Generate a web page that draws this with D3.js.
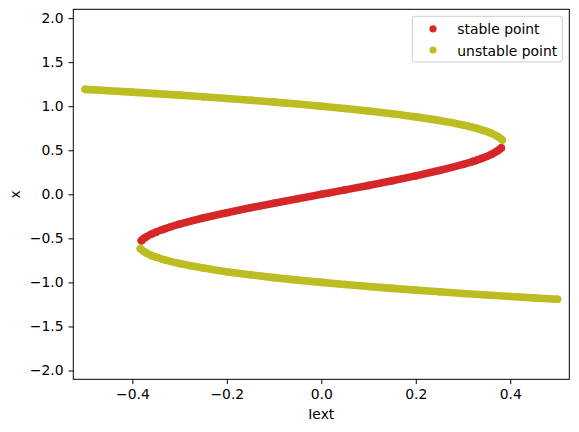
<!DOCTYPE html>
<html>
<head>
<meta charset="utf-8">
<script src="https://cdn.jsdelivr.net/npm/d3@7"></script>
<style>
  html, body { margin: 0; padding: 0; background: #fff; }
  svg { display: block; font-family: "DejaVu Sans", sans-serif; }
</style>
</head>
<body>
<svg id="chart" width="579" height="432"></svg>
<script>
// ---- data: Iext values and x values per branch ----
const stableIext = [-0.381, -0.38, -0.375, -0.37, -0.36, -0.35, -0.34, -0.33, -0.32, -0.3, -0.25, -0.2, -0.15, -0.1, -0.05, 0,
                    0.05, 0.1, 0.15, 0.2, 0.25, 0.3, 0.32, 0.33, 0.34, 0.35, 0.36, 0.37, 0.375, 0.38, 0.381];
const stableX    = [-0.526, -0.5235, -0.5, -0.4825, -0.453, -0.4295, -0.408, -0.389, -0.3712, -0.339, -0.2695, -0.209, -0.1535, -0.101, -0.0501, 0,
                    0.0501, 0.101, 0.1535, 0.209, 0.2695, 0.339, 0.3712, 0.389, 0.408, 0.4295, 0.453, 0.4825, 0.5, 0.5235, 0.526];

const unstableUpperIext = [-0.5, -0.45, -0.4, -0.35, -0.3, -0.25, -0.2, -0.15, -0.1, -0.05, 0, 0.05, 0.1, 0.15, 0.2, 0.25, 0.3, 0.33, 0.35, 0.36, 0.37, 0.375, 0.38, 0.383];
const unstableUpperX    = [1.1915, 1.1759, 1.1597, 1.1429, 1.1254, 1.1071, 1.088, 1.0679, 1.0467, 1.0242, 1.0, 0.974, 0.9456, 0.9143, 0.8789, 0.8375, 0.7865, 0.7472, 0.714, 0.6935, 0.6673, 0.651, 0.63, 0.616];

const unstableLowerIext = [-0.383, -0.38, -0.375, -0.37, -0.36, -0.35, -0.33, -0.3, -0.25, -0.2, -0.15, -0.1, -0.05, 0, 0.05, 0.1, 0.15, 0.2, 0.25, 0.3, 0.35, 0.4, 0.45, 0.5];
const unstableLowerX    = [-0.616, -0.63, -0.651, -0.6673, -0.6935, -0.714, -0.7472, -0.7865, -0.8375, -0.8789, -0.9143, -0.9456, -0.974, -1.0, -1.0242, -1.0467, -1.0679, -1.088, -1.1071, -1.1254, -1.1429, -1.1597, -1.1759, -1.1915];

const xTicks = [-0.4, -0.2, 0.0, 0.2, 0.4];
const yTicks = [-2.0, -1.5, -1.0, -0.5, 0.0, 0.5, 1.0, 1.5, 2.0];
const xDomain = [-0.525, 0.525];
const yDomain = [-2.1, 2.1];
const legendLabels = ["stable point", "unstable point"];
const colors = { stable: "#d62728", unstable: "#bcbd22" };

// ---- layout ----
const svg = d3.select("#chart");
const pLeft = 73.3, pRight = 569.3, pTop = 9.3, pBottom = 379.3;
const fontSize = 13.9;

const xScale = d3.scaleLinear().domain(xDomain).range([pLeft, pRight]);
const yScale = d3.scaleLinear().domain(yDomain).range([pBottom, pTop]);

const zip = (a, b) => a.map((v, i) => ({ I: v, x: b[i] }));
const series = [
  { key: "stable", pts: zip(stableIext, stableX) },
  { key: "unstable", pts: zip(unstableUpperIext, unstableUpperX) },
  { key: "unstable", pts: zip(unstableLowerIext, unstableLowerX) }
];

const markerR = 3.8;
const plot = svg.append("g");
const line = d3.line().x(d => xScale(d.I)).y(d => yScale(d.x)).curve(d3.curveCatmullRom.alpha(0.5));

series.forEach(s => {
  plot.append("path")
    .attr("d", line(s.pts))
    .attr("fill", "none")
    .attr("stroke", colors[s.key])
    .attr("stroke-width", markerR * 2)
    .attr("stroke-linecap", "round")
    .attr("stroke-linejoin", "round");
  plot.selectAll(null).data(s.pts).enter().append("circle")
    .attr("cx", d => xScale(d.I))
    .attr("cy", d => yScale(d.x))
    .attr("r", markerR)
    .attr("fill", colors[s.key]);
});

// ---- axes ----
const xAxis = d3.axisBottom(xScale).tickValues(xTicks).tickFormat(d3.format(".1f"))
  .tickSize(4.8).tickSizeOuter(0).tickPadding(5.3);
const yAxis = d3.axisLeft(yScale).tickValues(yTicks).tickFormat(d3.format(".1f"))
  .tickSize(4.8).tickSizeOuter(0).tickPadding(5.0);

const gx = svg.append("g").attr("transform", `translate(0,${pBottom})`).call(xAxis);
const gy = svg.append("g").attr("transform", `translate(${pLeft},0)`).call(yAxis);
[gx, gy].forEach(g => {
  g.select(".domain").remove();
  g.selectAll(".tick line").attr("stroke", "#000").attr("stroke-width", 1);
  g.selectAll(".tick text").attr("fill", "#000").style("font-size", fontSize + "px")
    .style("font-family", "DejaVu Sans, sans-serif");
});
// use proper minus sign
svg.selectAll(".tick text").text(function () { return d3.select(this).text().replace("-", "\u2212"); });

// frame
svg.append("rect")
  .attr("x", pLeft).attr("y", pTop)
  .attr("width", pRight - pLeft).attr("height", pBottom - pTop)
  .attr("fill", "none").attr("stroke", "#000").attr("stroke-width", 1);

// axis labels
svg.append("text")
  .attr("x", (pLeft + pRight) / 2).attr("y", 419.3)
  .attr("text-anchor", "middle").style("font-size", fontSize + "px")
  .text("Iext");
svg.append("text")
  .attr("transform", `translate(19.5,${(pTop + pBottom) / 2}) rotate(-90)`)
  .attr("text-anchor", "middle").style("font-size", fontSize + "px")
  .text("x");

// ---- legend ----
const lg = svg.append("g");
lg.append("rect")
  .attr("x", 412.3).attr("y", 16.3).attr("width", 150).attr("height", 45.7)
  .attr("rx", 2.5).attr("ry", 2.5)
  .attr("fill", "#fff").attr("fill-opacity", 0.8)
  .attr("stroke", "#cccccc").attr("stroke-width", 1);
const legendKeys = ["stable", "unstable"];
legendLabels.forEach((lab, i) => {
  const cy = 28.8 + i * 21.2;
  lg.append("circle").attr("cx", 433).attr("cy", cy).attr("r", 3.6).attr("fill", colors[legendKeys[i]]);
  lg.append("text").attr("x", 457.3).attr("y", cy + 5.5)
    .style("font-size", fontSize + "px").text(lab);
});
</script>
</body>
</html>
